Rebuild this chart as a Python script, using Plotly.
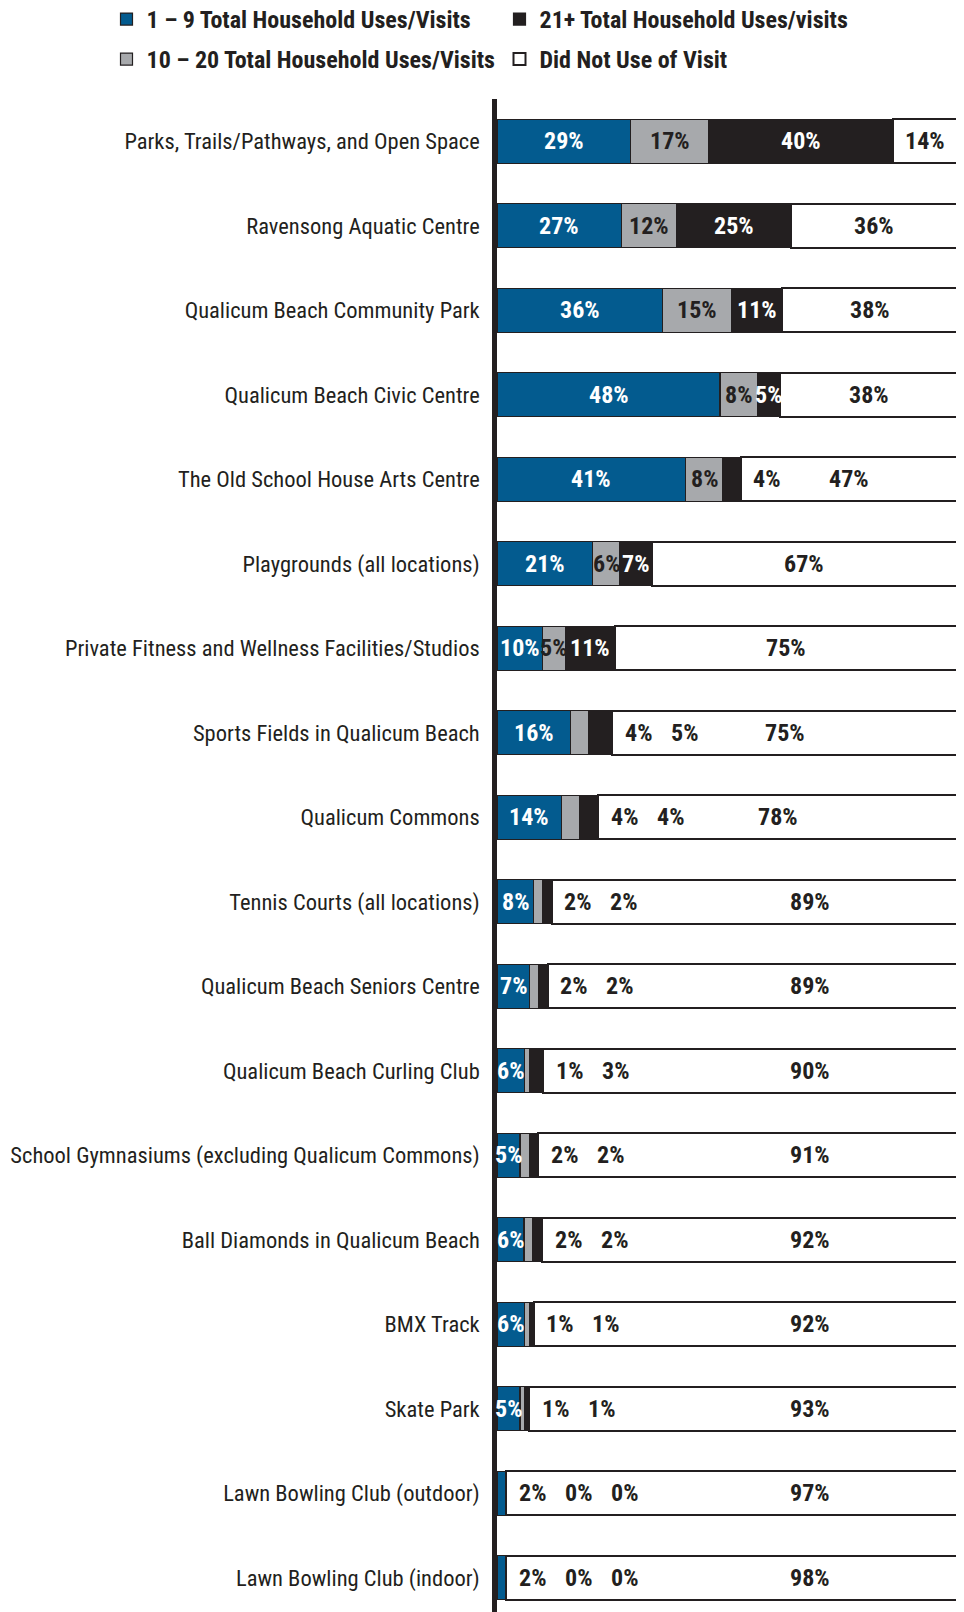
import plotly.graph_objects as go

# ---------------- data ----------------
categories = [
    "Parks, Trails/Pathways, and Open Space",
    "Ravensong Aquatic Centre",
    "Qualicum Beach Community Park",
    "Qualicum Beach Civic Centre",
    "The Old School House Arts Centre",
    "Playgrounds (all locations)",
    "Private Fitness and Wellness Facilities/Studios",
    "Sports Fields in Qualicum Beach",
    "Qualicum Commons",
    "Tennis Courts (all locations)",
    "Qualicum Beach Seniors Centre",
    "Qualicum Beach Curling Club",
    "School Gymnasiums (excluding Qualicum Commons)",
    "Ball Diamonds in Qualicum Beach",
    "BMX Track",
    "Skate Park",
    "Lawn Bowling Club (outdoor)",
    "Lawn Bowling Club (indoor)",
]
uses_1_9 = [29, 27, 36, 48, 41, 21, 10, 16, 14, 8, 7, 6, 5, 6, 6, 5, 2, 2]
uses_10_20 = [17, 12, 15, 8, 8, 6, 5, 4, 4, 2, 2, 1, 2, 2, 1, 1, 0, 0]
uses_21_plus = [40, 25, 11, 5, 4, 7, 11, 5, 4, 2, 2, 3, 2, 2, 1, 1, 0, 0]
did_not_use = [14, 36, 38, 38, 47, 67, 75, 75, 78, 89, 89, 90, 91, 92, 92, 93, 97, 98]
series_names = [
    "1 – 9 Total Household Uses/Visits",
    "10 – 20 Total Household Uses/Visits",
    "21+ Total Household Uses/visits",
    "Did Not Use of Visit",
]

# ---------------- styles ----------------
FONT = "Roboto Condensed, Open Sans Condensed, DejaVu Sans Condensed, sans-serif"
DARK = "#231F20"
colors = ["#035B8F", "#A7A9AC", DARK, "#FFFFFF"]
label_colors = ["#FFFFFF", DARK, "#FFFFFF", DARK]
legend_ids = ["legend", "legend2", "legend", "legend2"]
legend_rank = [1, 1, 2, 2]
line_widths = [1.2, 1.2, 1.2, 2]

# the page body adds an 8px offset, so the figure is sized to end at the window edge
W, H = 956, 1604
L, R, T, B = 489, 4, 91, 0
X_MAX = 100.65          # a little headroom so the right outline of the bars is not clipped
plot_w = W - L - R
plot_h = H - T - B
px_per_unit = plot_w / X_MAX
slot_px = 84.5
y_span = plot_h / slot_px

series = [uses_1_9, uses_10_20, uses_21_plus, did_not_use]

fig = go.Figure()
for s, name, c, lw, lg, rank in zip(series, series_names, colors, line_widths, legend_ids, legend_rank):
    fig.add_trace(go.Bar(
        y=categories, x=s, name=name, orientation="h",
        marker=dict(color=c, line=dict(color=DARK, width=lw)),
        legend=lg, legendrank=rank,
        hovertemplate="%{y}<br>" + name + ": %{x}%<extra></extra>",
    ))

# ---------------- data labels ----------------
annotations = []
for i, cat in enumerate(categories):
    vals = [s[i] for s in series]
    total = sum(vals)
    shares = [v / total * 100 for v in vals]
    white_start = sum(shares[:3])
    start = 0.0
    moved = False
    k = 0
    for j in range(3):
        v = vals[j]
        if v < 5:
            moved = True
        if moved:
            x = white_start + (26 + 46 * k) / px_per_unit
            k += 1
            col = DARK
        else:
            x = start + shares[j] / 2
            col = label_colors[j]
        annotations.append(dict(
            x=x, y=cat, xref="x", yref="y", text=f"{v}%", showarrow=False,
            font=dict(family=FONT, size=24, color=col, weight="bold"),
            xanchor="center", yanchor="middle",
        ))
        start += shares[j]
    v = vals[3]
    x = 68 if v >= 85 else white_start + shares[3] / 2
    annotations.append(dict(
        x=x, y=cat, xref="x", yref="y", text=f"{v}%", showarrow=False,
        font=dict(family=FONT, size=24, color=DARK, weight="bold"),
        xanchor="center", yanchor="middle",
    ))

legend_common = dict(
    orientation="h", xanchor="left", yanchor="middle", traceorder="normal",
    font=dict(family=FONT, size=24, color=DARK, weight="bold"),
    entrywidth=348, entrywidthmode="pixels",
    bgcolor="rgba(0,0,0,0)", borderwidth=0,
    itemclick=False, itemdoubleclick=False,
)
leg_x = (98.5 - L) / plot_w

fig.update_layout(
    width=W, height=H,
    margin=dict(l=L, r=R, t=T, b=B, pad=0, autoexpand=False),
    barmode="stack", barnorm="percent", bargap=0.48,
    paper_bgcolor="white", plot_bgcolor="white",
    font=dict(family=FONT, color=DARK),
    showlegend=True,
    legend=dict(legend_common, x=leg_x, y=1 + (T - 11.5) / plot_h),
    legend2=dict(legend_common, x=leg_x, y=1 + (T - 51.5) / plot_h),
    annotations=annotations,
)
fig.update_xaxes(range=[0, X_MAX], visible=False, showgrid=False, zeroline=False, fixedrange=True)
fig.update_yaxes(
    type="category", categoryorder="array", categoryarray=categories,
    range=[y_span - 0.5, -0.5],
    showgrid=False, zeroline=False, ticks="",
    showline=True, linecolor=DARK, linewidth=4.5,
    tickfont=dict(family=FONT, size=22.5, color=DARK),
    ticklabelstandoff=8, fixedrange=True, automargin=False,
)

fig.write_html("out.html")
